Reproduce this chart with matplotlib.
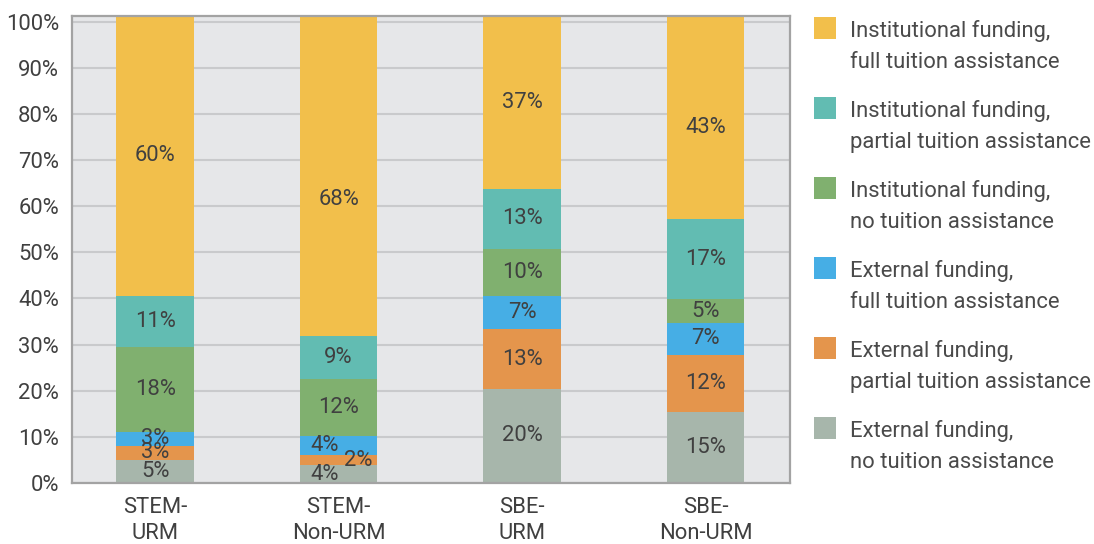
import matplotlib
matplotlib.use("Agg")
import matplotlib.pyplot as plt
import numpy as np
from matplotlib.patches import Rectangle

plt.rcParams['font.family'] = ['Roboto', 'DejaVu Sans']

# ---- data ----
categories = ["STEM-\nURM", "STEM-\nNon-URM", "SBE-\nURM", "SBE-\nNon-URM"]

series_names = [
    "External funding,\nno tuition assistance",
    "External funding,\npartial tuition assistance",
    "External funding,\nfull tuition assistance",
    "Institutional funding,\nno tuition assistance",
    "Institutional funding,\npartial tuition assistance",
    "Institutional funding,\nfull tuition assistance",
]

# segment heights (bottom to top)
ext_none = [5.0, 3.8, 20.4, 15.4]
ext_partial = [3.1, 2.2, 12.9, 12.4]
ext_full = [3.0, 4.2, 7.3, 6.9]
inst_none = [18.3, 12.3, 10.1, 5.1]
inst_partial = [11.1, 9.3, 13.1, 17.5]
inst_full = [60.8, 69.5, 37.5, 44.0]

# printed percentage labels
lab_ext_none = [5, 4, 20, 15]
lab_ext_partial = [3, 2, 13, 12]
lab_ext_full = [3, 4, 7, 7]
lab_inst_none = [18, 12, 10, 5]
lab_inst_partial = [11, 9, 13, 17]
lab_inst_full = [60, 68, 37, 43]

colors = ["#A7B6AB", "#E4954C", "#46AEE5", "#80B06F", "#62BCB2", "#F2BF4B"]

values = [ext_none, ext_partial, ext_full, inst_none, inst_partial, inst_full]
labels = [lab_ext_none, lab_ext_partial, lab_ext_full, lab_inst_none,
          lab_inst_partial, lab_inst_full]

# manual label nudges in pixels: (category index, series index) -> (dx, dy)
label_nudge = {(1, 0): (-14, 0), (1, 1): (20, 0), (1, 2): (-14, 0),
               (1, 5): (0, -23), (3, 5): (0, -10)}

# ---- layout ----
W, H = 1094, 544
fig = plt.figure(figsize=(W / 100, H / 100), dpi=100)
ax_l, ax_r, ax_t, ax_b = 71.7, 789.5, 15.7, 483.0
ax = fig.add_axes([ax_l / W, 1 - ax_b / H, (ax_r - ax_l) / W, (ax_b - ax_t) / H])

text_color = "#404040"
fs = 15.8

x = np.arange(len(categories))
bar_w = 0.423
bottom = np.zeros(len(categories))
for si, (vals, labs, col) in enumerate(zip(values, labels, colors)):
    vals = np.array(vals)
    ax.bar(x, vals, bar_w, bottom=bottom, color=col, zorder=3, linewidth=0)
    for ci in range(len(categories)):
        dx, dy = label_nudge.get((ci, si), (0, 0))
        ax.annotate(f"{labs[ci]}%", (x[ci], bottom[ci] + vals[ci] / 2),
                    xytext=(dx * 0.72, dy * 0.72), textcoords="offset points",
                    ha="center", va="center", fontsize=fs, color=text_color,
                    zorder=4)
    bottom = bottom + vals

ax.set_facecolor("#E6E7E9")
ax.set_xlim(-0.455, 3.457)
ax.set_ylim(0, bottom.max())
ax.set_yticks(np.arange(0, 101, 10))
ax.set_yticklabels([f"{v}%" for v in range(0, 101, 10)])
ax.set_xticks(x)
ax.set_xticklabels(categories, linespacing=1.32)
ax.tick_params(axis="both", length=0, labelsize=fs, labelcolor=text_color)
ax.tick_params(axis="y", pad=9)
ax.tick_params(axis="x", pad=10)
ax.yaxis.grid(True, color="#C9CACC", linewidth=1.5, zorder=1)
ax.set_axisbelow(True)
for sp in ax.spines.values():
    sp.set_color("#A3A3A3")
    sp.set_linewidth(1.6)
    sp.set_zorder(5)

# ---- legend (top entry = top of stack) ----
sq_x, sq_size, txt_x = 814, 22, 850
for i, si in enumerate(range(len(series_names) - 1, -1, -1)):
    top = 16.7 + i * 80
    fig.patches.append(Rectangle((sq_x / W, 1 - (top + sq_size) / H),
                                 sq_size / W, sq_size / H,
                                 transform=fig.transFigure,
                                 facecolor=colors[si], edgecolor="none"))
    lines = series_names[si].split("\n")
    for li, line in enumerate(lines):
        base = top + 20.0 + li * 31.6
        fig.text(txt_x / W, 1 - base / H, line, fontsize=fs, color="#4A4A4A",
                 ha="left", va="baseline")

fig.savefig("out.png", dpi=100)
